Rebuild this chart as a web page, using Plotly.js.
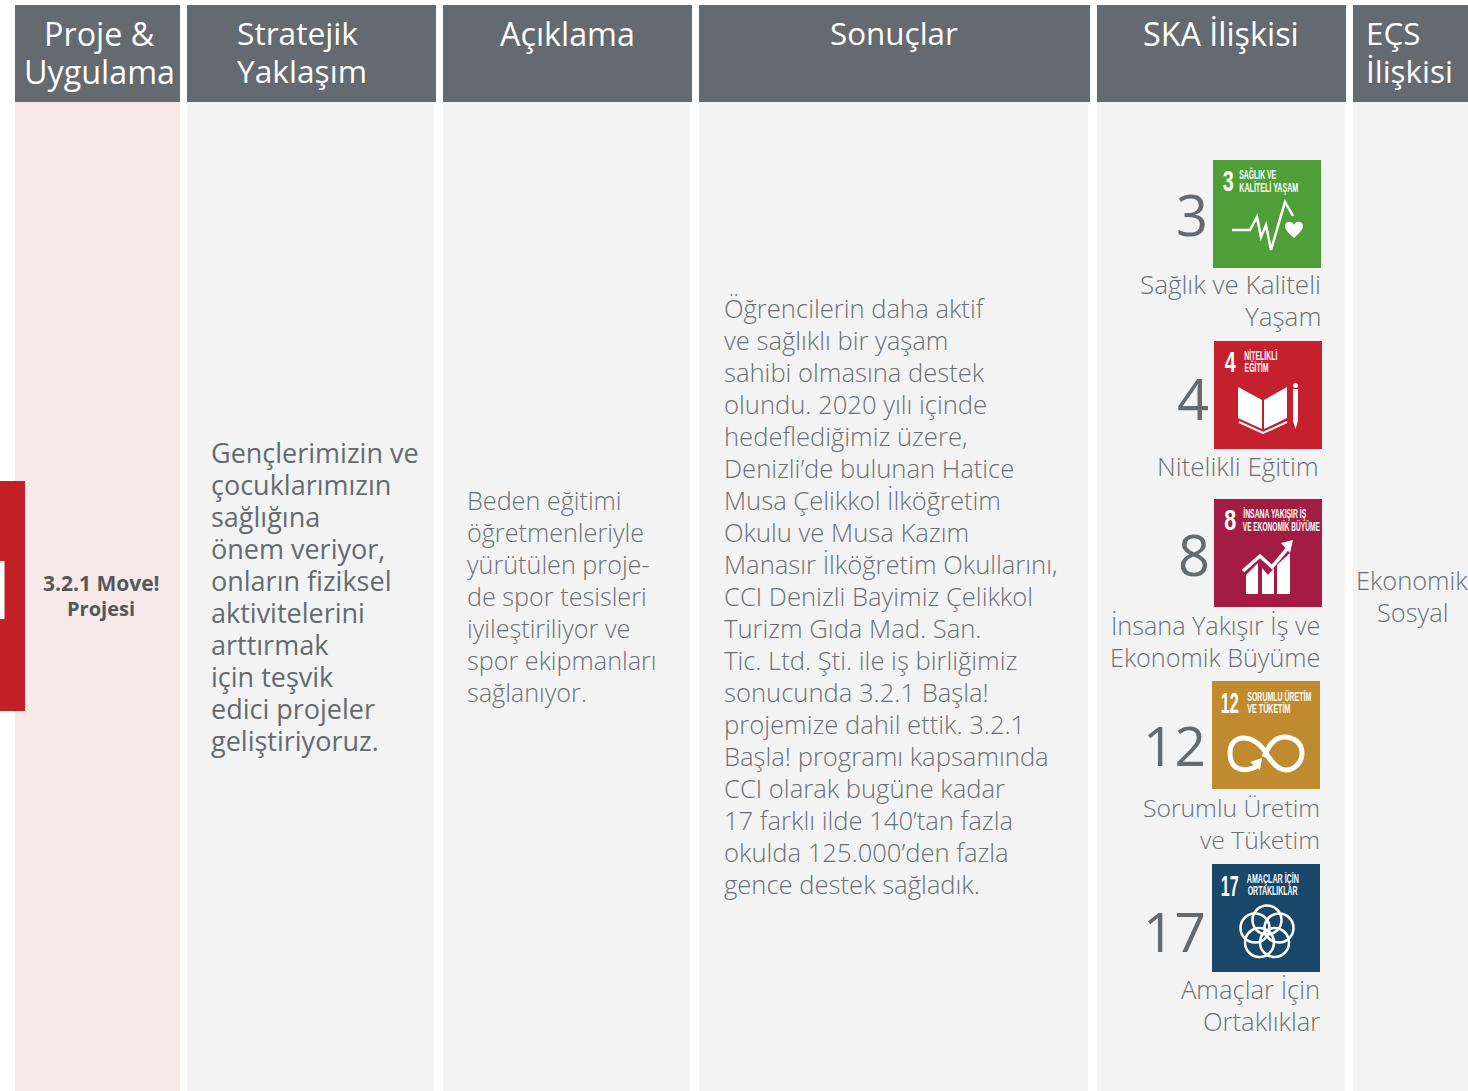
<!DOCTYPE html>
<html><head><meta charset="utf-8">
<script src="https://cdn.plot.ly/plotly-3.0.1.min.js"></script>
<style>html,body{margin:0;padding:0;background:#fff}#c{width:1468px;height:1091px}</style></head>
<body><div id="c"></div>
<script>
// ---- content ----
const headers = [["Proje &","Uygulama"],["Stratejik","Yaklaşım"],["Açıklama"],["Sonuçlar"],["SKA İlişkisi"],["EÇS","İlişkisi"]];
const projectLines = ["3.2.1 Move!","Projesi"];
const strategyLines = ["Gençlerimizin ve","çocuklarımızın","sağlığına","önem veriyor,","onların fiziksel","aktivitelerini","arttırmak","için teşvik","edici projeler","geliştiriyoruz."];
const descLines = ["Beden eğitimi","öğretmenleriyle","yürütülen proje-","de spor tesisleri","iyileştiriliyor ve","spor ekipmanları","sağlanıyor."];
const resultLines = ["Öğrencilerin daha aktif","ve sağlıklı bir yaşam","sahibi olmasına destek","olundu. 2020 yılı içinde","hedeflediğimiz üzere,","Denizli’de bulunan Hatice","Musa Çelikkol İlköğretim","Okulu ve Musa Kazım","Manasır İlköğretim Okullarını,","CCI Denizli Bayimiz Çelikkol","Turizm Gıda Mad. San.","Tic. Ltd. Şti. ile iş birliğimiz","sonucunda 3.2.1 Başla!","projemize dahil ettik. 3.2.1","Başla! programı kapsamında","CCI olarak bugüne kadar","17 farklı ilde 140’tan fazla","okulda 125.000’den fazla","gence destek sağladık."];
const ecsLines = ["Ekonomik","Sosyal"];
const sdgNumbers = ["3","4","8","12","17"];
const sdgNames = [["Sağlık ve Kaliteli","Yaşam"],["Nitelikli Eğitim"],["İnsana Yakışır İş ve","Ekonomik Büyüme"],["Sorumlu Üretim","ve Tüketim"],["Amaçlar İçin","Ortaklıklar"]];
const sdgIconLabels = [["SAĞLIK VE","KALİTELİ YAŞAM"],["NİTELİKLİ","EĞİTİM"],["İNSANA YAKIŞIR İŞ","VE EKONOMİK BÜYÜME"],["SORUMLU ÜRETİM","VE TÜKETİM"],["AMAÇLAR İÇİN","ORTAKLIKLAR"]];

// ---- layout ----
const headCols = [[15,180],[187,436],[443,692],[699,1090],[1097,1346],[1353,1468]];
const bodyCols = [[15,180],[187,434],[443,690],[699,1088],[1097,1345],[1353,1468]];
const iconX = [1213,1214,1214,1212,1212], iconY = [160,341,499,681,864], iconColor = ["#4f9f39","#c4202e","#a31c44","#bf8b2e","#19486a"];
const labelW = [[37,59],[33,24],[63,77],[64,43],[52,50]], labelLeft=[26,30,29,35,35], labelY=[[14,27],[14,26],[14,27],[15,27],[14,27]];
const numW=[11,11,12,18,18], numCx=[15.7,16,16,17,17.5], numCy=[20,20,20,21,21];
const HEAD="#636a70", TXT="#697176", F="Open Sans, Noto Sans, sans-serif", NARROW="Liberation Sans, sans-serif";
const shapes=[], ann=[], squeeze=[];
const rect=(x0,y0,x1,y1,c)=>shapes.push({type:'rect',xref:'x',yref:'y',x0,y0,x1,y1,fillcolor:c,line:{width:0}});
const text=(x,y,t,o={})=>{ann.push({x,y,text:t,xref:'x',yref:'y',showarrow:false,xanchor:o.a||'left',yanchor:'middle',borderpad:0,
  font:{family:o.f||F,size:o.s||25.6,color:o.c||TXT,weight:o.w||300}}); if(o.len) squeeze[ann.length-1]=o.len;};
const poly=(ox,oy,pts,close)=>'M'+pts.map(p=>(ox+p[0])+','+(oy+p[1])).join(' L')+(close?' Z':'');
const path=(d,fill,w)=>shapes.push({type:'path',xref:'x',yref:'y',path:d,fillcolor:fill?'#fff':'rgba(0,0,0,0)',line:{color:'#fff',width:w||0}});

bodyCols.forEach((c,i)=>rect(c[0],102,c[1],1091,i==0?"#f8e9e9":"#f3f3f3"));
headCols.forEach(c=>rect(c[0],5,c[1],102,HEAD));
rect(0,481,25,711,"#c22026"); rect(0,561,4.5,619,"#ffffff");

const headPos=[[99,'center'],[235.5,'left'],[567,'center'],[894,'center'],[1221,'center'],[1364.5,'left']], headS=[32.3,31.7,32.3,31.4,32.3,31.4];
headers.forEach((h,i)=>h.forEach((t,j)=>text(headPos[i][0],32.5+j*38,t,{a:headPos[i][1],s:headS[i],c:'#fff',w:400})));
projectLines.forEach((t,j)=>text(101,583+j*25,t,{a:'center',s:j?20:21,c:'#53585c',w:700}));
strategyLines.forEach((t,j)=>text(210,452+j*32,t,{s:27,c:'#646b70',w:500}));
descLines.forEach((t,j)=>text(465.5,500+j*32,t,{s:25.2}));
resultLines.forEach((t,j)=>text(722.5,308+j*32.05,t));
ecsLines.forEach((t,j)=>text(1412,580+j*32,t,{a:'center',s:25.4}));

const numX=[1209,1210,1211,1206.5,1206.5], numY=[214,398,554,744,930];
const nameX=[1322,1320,1321,1321,1321], nameY=[284,466,625,807,989], nameS=[26,26,25.2,24.7,25.6];
sdgNumbers.forEach((n,i)=>{
  rect(iconX[i],iconY[i],iconX[i]+108,iconY[i]+108,iconColor[i]);
  text(numX[i],numY[i],n,{a:'right',s:n.length>1?55:56,c:HEAD,w:400});
  sdgNames[i].forEach((t,j)=>text(nameX[i],nameY[i]+j*32,t,{a:'right',s:nameS[i]}));
  text(iconX[i]+numCx[i],iconY[i]+numCy[i],n,{a:'center',s:30,c:'#fff',w:700,f:NARROW,len:numW[i]});
  sdgIconLabels[i].forEach((t,j)=>text(iconX[i]+labelLeft[i]+labelW[i][j]/2,iconY[i]+labelY[i][j],t,{a:'center',s:12.5,c:'#fff',w:700,f:NARROW,len:labelW[i][j]}));
});
// SDG 3 glyph
let ox=iconX[0],oy=iconY[0];
path(poly(ox,oy,[[19,70],[37,70],[44,57],[48,77],[53,65],[58,90],[72,42],[80,56]]),false,2.5);
path(`M${ox+81},${oy+78} C${ox+73},${oy+71} ${ox+72},${oy+68} ${ox+72},${oy+66} C${ox+72},${oy+61} ${ox+79},${oy+60} ${ox+81},${oy+65} C${ox+83},${oy+60} ${ox+90},${oy+61} ${ox+90},${oy+66} C${ox+90},${oy+68} ${ox+89},${oy+71} ${ox+81},${oy+78} Z`,true);
// SDG 4 glyph
ox=iconX[1];oy=iconY[1];
path(poly(ox,oy,[[24,46],[48,59],[48,88],[24,77]],true),true);
path(poly(ox,oy,[[50,59],[73,46],[73,77],[50,88]],true),true);
path(poly(ox,oy,[[25,81],[49,92],[73,81]]),false,2);
path(poly(ox,oy,[[79,48],[84,48],[84,80],[81.5,88],[79,80]],true),true);
shapes.push({type:'circle',xref:'x',yref:'y',x0:ox+79,y0:oy+42,x1:ox+84,y1:oy+47,fillcolor:'#fff',line:{width:0}});
// SDG 8 glyph
ox=iconX[2];oy=iconY[2];
path(poly(ox,oy,[[32,76],[44,64],[44,95],[32,95]],true),true);
path(poly(ox,oy,[[48,69],[54,76],[60,69],[60,95],[48,95]],true),true);
path(poly(ox,oy,[[63,66],[76,54],[76,95],[63,95]],true),true);
path(poly(ox,oy,[[29,72],[46,57],[58,68],[74,49]]),false,3.5);
path(poly(ox,oy,[[79,41],[67,44],[76,54]],true),true);
// SDG 12 glyph
ox=iconX[3];oy=iconY[3];
const P=(a,b)=>(ox+a)+','+(oy+b);
path(`M${P(45,85)} C${P(38,90)} ${P(18,93)} ${P(18,72)} C${P(18,52)} ${P(42,52)} ${P(54,72)} C${P(62,86)} ${P(70,89)} ${P(74,89)} C${P(82,89)} ${P(90,82)} ${P(90,72)} C${P(90,62)} ${P(82,56)} ${P(72,56)} C${P(62,56)} ${P(56,66)} ${P(52,76)}`,false,5);
path(poly(ox,oy,[[38,81],[50,77],[48,89]],true),true);
// SDG 17 glyph
ox=iconX[4];oy=iconY[4];
[[55,56],[43,64],[47.5,78.5],[62.5,78.5],[67,64]].forEach(c=>shapes.push({type:'circle',xref:'x',yref:'y',x0:ox+c[0]-14.5,y0:oy+c[1]-14.5,x1:ox+c[0]+14.5,y1:oy+c[1]+14.5,fillcolor:'rgba(0,0,0,0)',line:{color:'#fff',width:2.5}}));

Plotly.newPlot('c',[{type:'scatter',x:[],y:[],hoverinfo:'skip'}],{
  width:1468,height:1091,margin:{l:0,r:0,t:0,b:0},paper_bgcolor:'#fff',plot_bgcolor:'#fff',showlegend:false,
  xaxis:{range:[0,1468],visible:false,fixedrange:true},
  yaxis:{range:[1091,0],visible:false,fixedrange:true},
  shapes,annotations:ann
},{displayModeBar:false,staticPlot:true}).then(gd=>{
  // the icon lettering is condensed: fit each text to its measured width
  gd.querySelectorAll('.annotation').forEach(g=>{
    const i=+g.getAttribute('data-index'), len=squeeze[i];
    if(!len) return;
    const t=g.querySelector('text');
    t.setAttribute('textLength',len); t.setAttribute('lengthAdjust','spacingAndGlyphs');
  });
});
</script></body></html>
